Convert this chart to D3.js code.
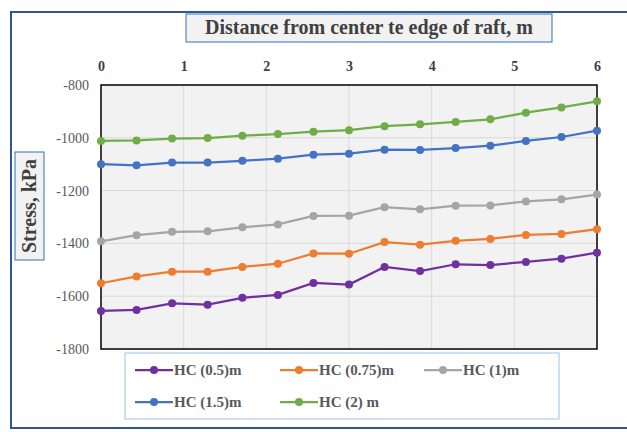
<!DOCTYPE html>
<html>
<head>
<meta charset="utf-8">
<script src="https://cdn.jsdelivr.net/npm/d3@7"></script>
<style>
  body { margin: 0; background: #fff; }
  svg { display: block; }
  svg text { font-family: "Liberation Serif", "Times New Roman", Times, serif; }
</style>
</head>
<body>
<div id="chart"></div>
<script>
// Data
const distances = [0, 0.43, 0.86, 1.29, 1.71, 2.14, 2.57, 3, 3.43, 3.86, 4.29, 4.71, 5.14, 5.57, 6];
const seriesNames = ["HC (0.5)m", "HC (0.75)m", "HC (1)m", "HC (1.5)m", "HC (2) m"];
const hc05 = [-1656, -1652, -1627, -1632, -1606, -1595, -1550, -1556, -1489, -1505, -1479, -1482, -1470, -1458, -1435];
const hc075 = [-1551, -1525, -1507, -1507, -1489, -1477, -1438, -1439, -1395, -1405, -1390, -1383, -1368, -1364, -1346];
const hc1 = [-1392, -1369, -1356, -1354, -1339, -1328, -1296, -1295, -1263, -1271, -1257, -1256, -1241, -1233, -1215];
const hc15 = [-1100, -1104, -1094, -1094, -1087, -1079, -1064, -1060, -1045, -1046, -1039, -1030, -1012, -997, -973];
const hc2 = [-1012, -1010, -1003, -1001, -992, -986, -977, -971, -956, -949, -940, -930, -905, -885, -862];
const xTicks = [0, 1, 2, 3, 4, 5, 6];
const yTicks = [-800, -1000, -1200, -1400, -1600, -1800];
const colors = ["#7030a0", "#ed7d31", "#a5a5a5", "#4472c4", "#70ad47"];

const seriesValues = [hc05, hc075, hc1, hc15, hc2];
const serif = "'Liberation Serif', 'Times New Roman', Times, serif";

const W = 627, H = 432;
const plot = { left: 101, right: 597, top: 85, bottom: 349 };

const svg = d3.select("#chart").append("svg")
    .attr("width", W)
    .attr("height", H);

// outer frame
svg.append("rect")
    .attr("x", 11).attr("y", 12)
    .attr("width", 640).attr("height", 416)
    .attr("fill", "#fff")
    .attr("stroke", "#2f5597")
    .attr("stroke-width", 2);

const xScale = d3.scaleLinear().domain([0, 6]).range([plot.left, plot.right]);
const yScale = d3.scaleLinear().domain([-1800, -800]).range([plot.bottom, plot.top]);

// plot background
svg.append("rect")
    .attr("x", plot.left).attr("y", plot.top)
    .attr("width", plot.right - plot.left)
    .attr("height", plot.bottom - plot.top)
    .attr("fill", "#f2f2f2");

// gridlines
svg.append("g")
    .selectAll("line")
    .data(xTicks.slice(1, -1))
    .join("line")
    .attr("x1", d => xScale(d)).attr("x2", d => xScale(d))
    .attr("y1", plot.top).attr("y2", plot.bottom)
    .attr("stroke", "#d9d9d9").attr("stroke-width", 1);

svg.append("g")
    .selectAll("line")
    .data(yTicks.slice(1, -1))
    .join("line")
    .attr("x1", plot.left).attr("x2", plot.right)
    .attr("y1", d => yScale(d)).attr("y2", d => yScale(d))
    .attr("stroke", "#d9d9d9").attr("stroke-width", 1);

// plot border
svg.append("rect")
    .attr("x", plot.left).attr("y", plot.top)
    .attr("width", plot.right - plot.left)
    .attr("height", plot.bottom - plot.top)
    .attr("fill", "none")
    .attr("stroke", "#000")
    .attr("stroke-width", 1.5);

// top x axis
const xAxis = svg.append("g")
    .attr("transform", `translate(0,${plot.top})`)
    .call(d3.axisTop(xScale).tickValues(xTicks).tickSize(0).tickPadding(14).tickFormat(d3.format("d")))
    .attr("font-family", serif);
xAxis.select(".domain").remove();
xAxis.selectAll("text")
    .attr("font-size", 14)
    .attr("font-weight", "bold")
    .attr("fill", "#404040");

// y axis
const yAxis = svg.append("g")
    .attr("transform", `translate(${plot.left},0)`)
    .call(d3.axisLeft(yScale).tickValues(yTicks).tickSize(0).tickPadding(12).tickFormat(d => d))
    .attr("font-family", serif);
yAxis.select(".domain").remove();
yAxis.selectAll("text")
    .attr("font-size", 14)
    .attr("fill", "#595959");

// lines and markers
const line = d3.line()
    .x((d, i) => xScale(distances[i]))
    .y(d => yScale(d));

seriesValues.forEach((vals, s) => {
    svg.append("path")
        .datum(vals)
        .attr("fill", "none")
        .attr("stroke", colors[s])
        .attr("stroke-width", 2.25)
        .attr("d", line);
    svg.append("g")
        .selectAll("circle")
        .data(vals)
        .join("circle")
        .attr("cx", (d, i) => xScale(distances[i]))
        .attr("cy", d => yScale(d))
        .attr("r", 4)
        .attr("fill", colors[s]);
});

// title box
svg.append("rect")
    .attr("x", 186).attr("y", 14)
    .attr("width", 366).attr("height", 28)
    .attr("fill", "#f2f2f2")
    .attr("stroke", "#2e75b6")
    .attr("stroke-width", 1);
svg.append("text")
    .attr("x", 369).attr("y", 34)
    .attr("text-anchor", "middle")
    .attr("font-family", serif)
    .attr("font-size", 20)
    .attr("font-weight", "bold")
    .attr("fill", "#404040")
    .text("Distance from center te edge of raft, m");

// y title box
svg.append("rect")
    .attr("x", 15).attr("y", 152)
    .attr("width", 29).attr("height", 108)
    .attr("fill", "#f2f2f2")
    .attr("stroke", "#2e75b6")
    .attr("stroke-width", 1);
svg.append("text")
    .attr("transform", "translate(36,206) rotate(-90)")
    .attr("text-anchor", "middle")
    .attr("font-family", serif)
    .attr("font-size", 20)
    .attr("font-weight", "bold")
    .attr("fill", "#404040")
    .text("Stress, kPa");

// legend
svg.append("rect")
    .attr("x", 125).attr("y", 353)
    .attr("width", 434).attr("height", 66)
    .attr("fill", "#fff")
    .attr("stroke", "#9dc3e6")
    .attr("stroke-width", 1);

const legendPos = [[135, 370], [280, 370], [424, 370], [135, 402], [280, 402]];
seriesNames.forEach((name, s) => {
    const [lx, ly] = legendPos[s];
    const g = svg.append("g").attr("transform", `translate(${lx},${ly})`);
    g.append("line")
        .attr("x1", 0).attr("x2", 38)
        .attr("y1", 0).attr("y2", 0)
        .attr("stroke", colors[s]).attr("stroke-width", 2.25);
    g.append("circle")
        .attr("cx", 19).attr("cy", 0).attr("r", 4)
        .attr("fill", colors[s]);
    g.append("text")
        .attr("x", 39).attr("y", 5)
        .attr("font-family", serif)
        .attr("font-size", 15)
        .attr("font-weight", "bold")
        .attr("fill", "#595959")
        .text(name);
});
</script>
</body>
</html>
